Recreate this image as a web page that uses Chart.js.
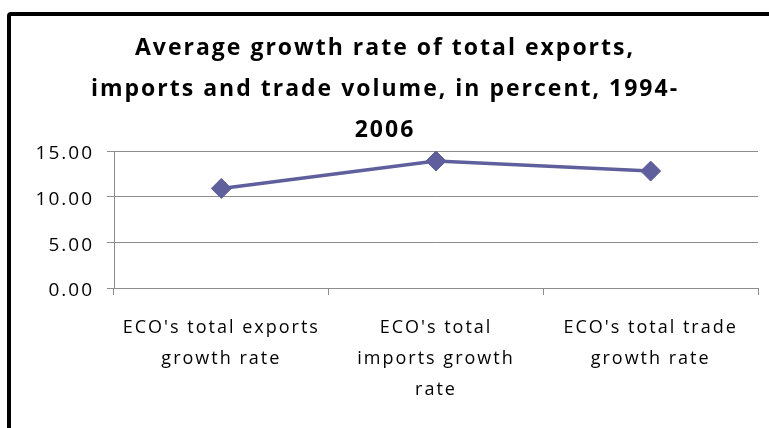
<!DOCTYPE html>
<html>
<head>
<meta charset="utf-8">
<script src="https://cdn.jsdelivr.net/npm/chart.js@4"></script>
<style>
  html, body { margin: 0; padding: 0; background: #ffffff; overflow: hidden; }
  #frame { position: absolute; left: 7px; top: 12px; width: 900px; height: 600px;
           border: 4px solid #000; border-radius: 4px; box-sizing: border-box; }
  #c { position: absolute; left: 0; top: 0; }
</style>
</head>
<body>
<div id="frame"></div>
<canvas id="c" width="769" height="428"></canvas>
<script>
const titleLines = ["Average growth rate of total exports,", "imports and trade volume, in percent, 1994-", "2006"];
const categories = [
  ["ECO's total exports", "growth rate"],
  ["ECO's total", "imports growth", "rate"],
  ["ECO's total trade", "growth rate"]
];
const growthValues = [10.9, 13.9, 12.8];
const yTicks = [0, 5, 10, 15];

const lineColor = '#5e5f9c';
const gridColor = '#8c8c8c';
const fontFam = "'Open Sans', 'DejaVu Sans', sans-serif";

const spacingPlugin = {
  id: 'spacing',
  beforeLayout(chart) { chart.ctx.letterSpacing = '2px'; },
  beforeDraw(chart) { chart.ctx.letterSpacing = '2px'; }
};

new Chart(document.getElementById('c'), {
  type: 'line',
  plugins: [spacingPlugin],
  data: {
    labels: categories,
    datasets: [{
      data: growthValues,
      borderColor: lineColor,
      backgroundColor: lineColor,
      borderWidth: 3.5,
      pointStyle: 'rectRot',
      pointRadius: 10,
      pointBorderWidth: 1,
      pointBackgroundColor: lineColor,
      pointBorderColor: lineColor,
      tension: 0,
      fill: false
    }]
  },
  options: {
    responsive: false,
    devicePixelRatio: 1,
    animation: false,
    layout: { padding: { top: 0, left: 10, right: 9, bottom: 22.5 } },
    plugins: {
      legend: { display: false },
      tooltip: { enabled: false },
      title: {
        display: true,
        text: titleLines,
        color: '#000',
        font: { family: fontFam, size: 23, weight: 'bold', lineHeight: '41px' },
        padding: { top: 27.5, bottom: 0.5 }
      }
    },
    scales: {
      x: {
        offset: true,
        afterFit: (s) => { s.height = 117.5; },
        grid: { offset: true, drawOnChartArea: false, color: gridColor, tickLength: 7 },
        border: { color: gridColor, width: 1 },
        ticks: {
          color: '#000', padding: 17.5, maxRotation: 0, autoSkip: false,
          font: { family: fontFam, size: 18, lineHeight: '31px' }
        }
      },
      y: {
        min: 0, max: 15,
        afterBuildTicks: (s) => { s.ticks = yTicks.map(v => ({ value: v })); },
        afterFit: (s) => { s.width = 104; },
        grid: { color: gridColor, tickLength: 7 },
        border: { color: gridColor, width: 1 },
        ticks: {
          color: '#000', padding: 13, labelOffset: 3,
          callback: (v) => Number(v).toFixed(2),
          font: { family: fontFam, size: 19 }
        }
      }
    }
  }
});
</script>
</body>
</html>
